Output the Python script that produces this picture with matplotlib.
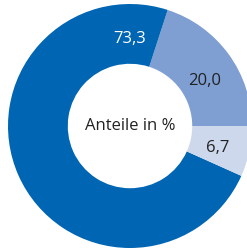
import numpy as np
import matplotlib.pyplot as plt

# Anteile (counterclockwise from 3 o'clock)
labels = ["20,0", "73,3", "6,7"]
values = [20.0, 73.3, 6.7]
colors = ["#7f9fd2", "#0066b3", "#cdd8ec"]
text_colors = ["#222222", "white", "#222222"]

plt.rcParams['font.family'] = ['Open Sans', 'DejaVu Sans']

fig = plt.figure(figsize=(2.47, 2.49), dpi=100)
ax = fig.add_axes([0, 0, 1, 1])

ax.pie(values, colors=colors, startangle=0, counterclock=True,
       radius=1.0, wedgeprops=dict(width=0.49, linewidth=0))

# label positions (angle in degrees, radius)
pos = [(31.0, 0.71), (90, 0.71), (-14.0, 0.74)]
for lab, tc, (a, r) in zip(labels, text_colors, pos):
    ax.text(r*np.cos(np.radians(a)), r*np.sin(np.radians(a)), lab,
            ha="center", va="center", color=tc, fontsize=12)

ax.text(0, 0, "Anteile in %", ha="center", va="center",
        color="#222222", fontsize=12)

ax.set_aspect("auto")
ax.set_xlim(-130/122, 117/122)
ax.set_ylim(-123/122, 126/122)
ax.axis("off")

fig.savefig("out.png", dpi=100)
